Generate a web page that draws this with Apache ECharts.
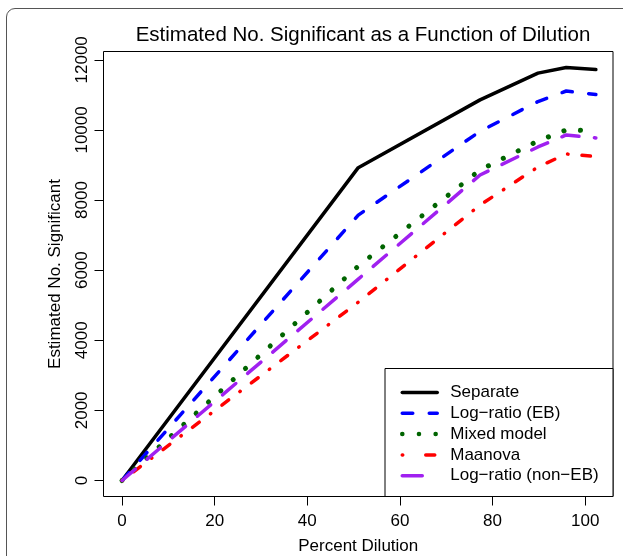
<!DOCTYPE html>
<html>

<head>
    <meta http-equiv="Content-Type" content="text/html; charset=utf-8" />
    <title>Estimated No. Significant</title>
    <style type="text/css">
        * {
            margin: 0;
            padding: 0
        }

        html,
        body {
            width: 100%;
            height: 100%;
            background: #fff;
            overflow: hidden;
        }

        .frame {
            position: absolute;
            left: 6px;
            top: 8px;
            width: 700px;
            height: 700px;
            border: 1px solid #555;
            border-radius: 9px;
        }

        #chart {
            position: absolute;
            left: 0;
            top: 0;
            width: 623px;
            height: 556px;
        }
    </style>
</head>

<body>
    <div class="frame"></div>
    <div id="chart"></div>
    <script src="https://cdn.jsdelivr.net/npm/echarts@6/dist/echarts.min.js"></script>
    <script>
        // percent dilution at each step
        const dilution = [0, 51, 77.3, 89.8, 95.9, 102.3];
        const separate = [0, 8923, 10857, 11620, 11780, 11723];
        const logRatioEB = [0, 7570, 9960, 10810, 11110, 11010];
        const mixedModel = [0, 6114, 8857, 9686, 10000, 9975];
        const maanova = [0, 5086, 7857, 8943, 9314, 9243];
        const logRatioNonEB = [0, 5743, 8714, 9514, 9857, 9771];
        const xTicks = [0, 20, 40, 60, 80, 100];
        const yTicks = [0, 2000, 4000, 6000, 8000, 10000, 12000];

        const font = '"Liberation Sans", Arial, Helvetica, sans-serif';
        const pairs = ys => dilution.map((x, i) => [x, ys[i]]);

        const line = (name, ys, color, width, dash) => ({
            name: name,
            type: 'line',
            data: pairs(ys),
            symbol: 'none',
            lineStyle: {
                color: color,
                width: width,
                type: dash,
                cap: 'round',
                join: 'round'
            },
            itemStyle: { color: color }
        });

        const chart = echarts.init(document.getElementById('chart'));
        chart.setOption({
            animation: false,
            title: {
                text: 'Estimated No. Significant as a Function of Dilution',
                left: 358,
                top: 20,
                textAlign: 'center',
                textStyle: { fontFamily: font, fontSize: 20.5, fontWeight: 'normal', color: '#000' }
            },
            grid: {
                left: 103.5,
                right: 10,
                top: 51.5,
                bottom: 59.5,
                outerBoundsMode: 'none',
                containLabel: false,
                show: true,
                borderColor: '#000',
                borderWidth: 1,
                backgroundColor: 'transparent'
            },
            xAxis: {
                type: 'value',
                min: -4,
                max: 106,
                name: 'Percent Dilution',
                nameLocation: 'middle',
                nameGap: 41,
                nameMoveOverlap: false,
                nameTextStyle: { fontFamily: font, fontSize: 17, color: '#000' },
                axisLine: { show: false, onZero: false },
                splitLine: { show: false },
                axisTick: { show: true, length: 9, customValues: xTicks, lineStyle: { color: '#000' } },
                axisLabel: { customValues: xTicks, margin: 16, fontFamily: font, fontSize: 17, color: '#000' }
            },
            yAxis: {
                type: 'value',
                min: -457,
                max: 12237,
                name: 'Estimated No. Significant',
                nameLocation: 'middle',
                nameGap: 40,
                nameRotate: 90,
                nameMoveOverlap: false,
                nameTextStyle: { fontFamily: font, fontSize: 17, color: '#000' },
                axisLine: { show: false, onZero: false },
                splitLine: { show: false },
                axisTick: { show: true, length: 9, customValues: yTicks, lineStyle: { color: '#000' } },
                axisLabel: {
                    customValues: yTicks,
                    rotate: 90,
                    margin: 13,
                    formatter: v => String(v),
                    fontFamily: font,
                    fontSize: 17,
                    color: '#000'
                }
            },
            legend: {
                orient: 'vertical',
                left: 400,
                top: 384,
                z: 20,
                itemWidth: 35,
                itemHeight: 16,
                itemGap: 3.8,
                padding: 0,
                selectedMode: false,
                itemStyle: { opacity: 0 },
                textStyle: { fontFamily: font, fontSize: 17, color: '#000', padding: [0, 0, 0, 8], lineHeight: 16 },
                data: [
                    { name: 'Separate', lineStyle: { width: 3.5 } },
                    { name: 'Log−ratio (EB)', lineStyle: { width: 3.5 } },
                    { name: 'Mixed model', lineStyle: { width: 4.5 } },
                    { name: 'Maanova', lineStyle: { width: 3.5, type: [0.5, 23, 9, 10] } },
                    { name: 'Log−ratio (non−EB)', lineStyle: { width: 3.5, type: [20, 30] } }
                ]
            },
            graphic: [{
                type: 'rect',
                shape: { x: 385, y: 368.5, width: 228, height: 128 },
                style: { fill: '#fff', stroke: '#000', lineWidth: 1 },
                z: 3
            }],
            series: [
                line('Separate', separate, '#000000', 3.5, 'solid'),
                line('Log−ratio (EB)', logRatioEB, '#0000ff', 3.5, [10.5, 16.5]),
                line('Mixed model', mixedModel, '#006400', 5, [0.1, 16.57]),
                line('Maanova', maanova, '#ff0000', 3.5, [0.5, 13.95, 8.5, 13.95]),
                line('Log−ratio (non−EB)', logRatioNonEB, '#a020f0', 3.5, [17.5, 15.5])
            ]
        });
    </script>
</body>

</html>
